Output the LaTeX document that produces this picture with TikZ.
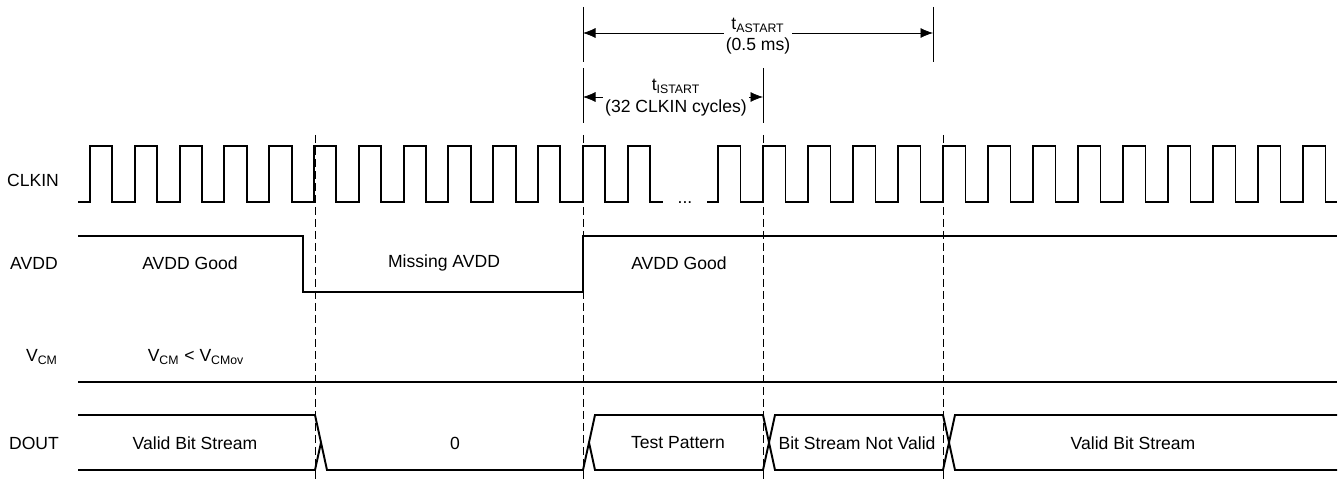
\documentclass[tikz,border=0pt]{standalone}
\usepackage{fontspec}
\setmainfont{Liberation Sans}
\usetikzlibrary{arrows.meta}

\begin{document}
\begin{tikzpicture}[
            x=0.02cm,
            y=-0.02cm,
            font=\fontsize{10}{9.6}\selectfont,
            signal/.style={
                line width=1.1pt,
                line join=miter
            },
            marker/.style={
                thin,
                dash pattern=on 0.16cm off 0.08cm
            },
            extline/.style={
                thin
            },
            dim/.style={
                {Latex[length=0.25cm,width=0.2cm]}-{Latex[length=0.25cm,width=0.2cm]},
                thin
            },
            dimtext/.style={
                fill=white,
                align=center,
                inner sep=1pt
            },
            sigtext/.style={
                anchor=center,
                inner sep=0pt
            }
        ]
        \useasboundingbox (0,0) rectangle (1338,479);

        % Signal names
        \node[sigtext] (lclk) at (33,180) {CLKIN};
        \node[sigtext] (lavdd) at (34,263) {AVDD};
        \node[sigtext] (lvcm) at (42,357) {V\textsubscript{CM}};
        \node[sigtext] (ldout) at (34,443) {DOUT};

        % Marker lines
        \foreach \x in {315,583,763,943}
            \draw[marker] (\x,135) -- (\x,479);

        % Clock
        \draw[signal] (78,202)
            \foreach \k in {0,...,12} {
                -- ({90+44.8*\k},202) -- ({90+44.8*\k},146)
                -- ({112.4+44.8*\k},146) -- ({112.4+44.8*\k},202)
            } -- (663,202);
        \draw[signal] (707,202)
            \foreach \k in {0,...,13} {
                -- ({718+45*\k},202) -- ({718+45*\k},146)
                -- ({740.5+45*\k},146) -- ({740.5+45*\k},202)
            } -- (1337,202);
        \node[anchor=base] (dots) at (685,204) {...};

        % AVDD
        \draw[signal] (78,236) -- (303,236) -- (303,292) -- (583,292)
            -- (583,236) -- (1337,236);
        \node[sigtext] (avdd1) at (190,263) {AVDD Good};
        \node[sigtext] (avdd2) at (444,263) {Missing AVDD};
        \node[sigtext] (avdd3) at (679,263) {AVDD Good};

        % VCM
        \draw[signal] (78,382) -- (1337,382);
        \node[sigtext] (vcmtxt) at (196,357) {V\textsubscript{CM} < V\textsubscript{CMov}};

        % DOUT
        \draw[signal] (78,415) -- (315,415) -- (327,470) -- (583,470) -- (595,415)
            -- (763,415) -- (775,470) -- (943,470) -- (955,415) -- (1337,415);
        \draw[signal] (78,470) -- (315,470) -- (321,442.5);
        \draw[signal] (589,442.5) -- (595,470) -- (763,470) -- (775,415)
            -- (943,415) -- (955,470) -- (1337,470);
        \node[sigtext] (d1) at (195,443) {Valid Bit Stream};
        \node[sigtext] (d2) at (455,443) {0};
        \node[sigtext] (d3) at (678,443) {Test Pattern};
        \node[sigtext] (d4) at (857,443) {Bit Stream Not Valid};
        \node[sigtext] (d5) at (1133,443) {Valid Bit Stream};

        % Timing arrows
        \draw[extline] (583,7) -- (583,62);
        \draw[extline] (933,7) -- (933,62);
        \draw[extline] (583,68) -- (583,123);
        \draw[extline] (763,68) -- (763,123);
        \coordinate (as0) at (583,33);
        \coordinate (as1) at (933,33);
        \coordinate (is0) at (583,97);
        \coordinate (is1) at (763,97);
        \draw[dim] (as0) -- (as1);
        \draw[dim] (is0) -- (is1);
        \node[dimtext] (tas) at (758,36) {t\textsubscript{ASTART}\\[2pt](0.5 ms)};
        \node[dimtext] (tis) at (676,98) {t\textsubscript{ISTART}\\[2.8pt](32 CLKIN cycles)};

        \end{tikzpicture}
\end{document}
